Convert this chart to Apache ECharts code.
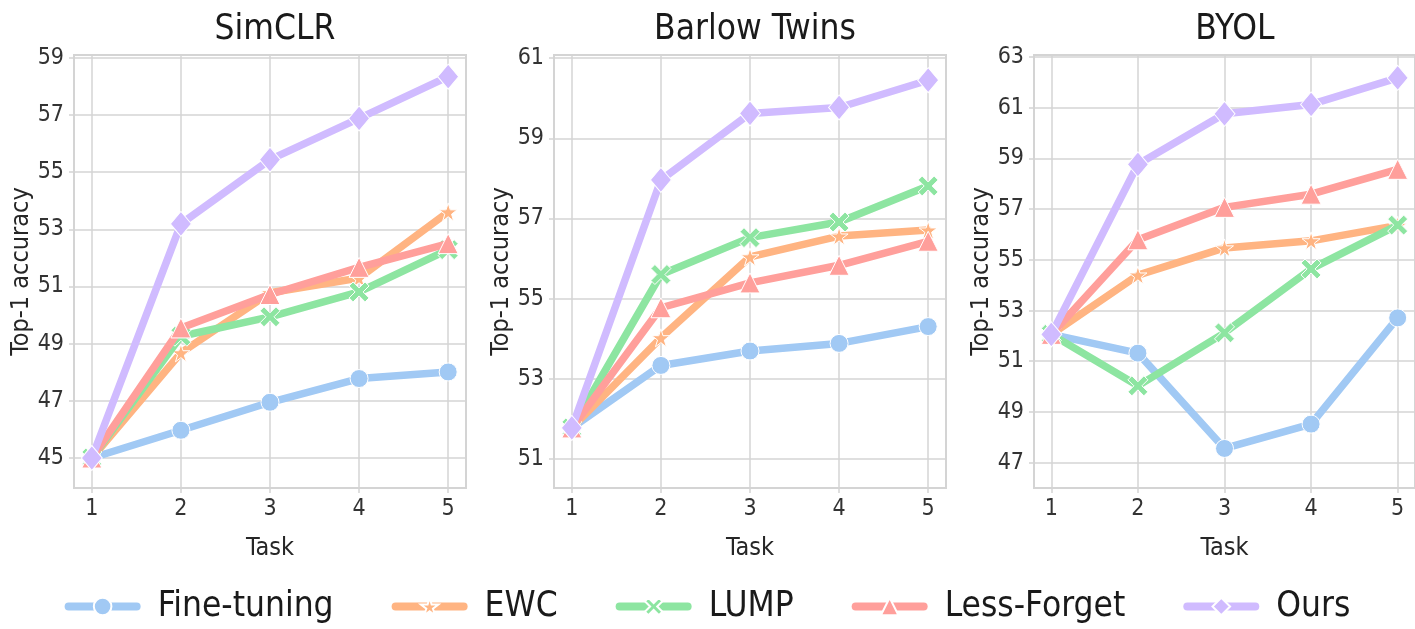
<!DOCTYPE html>
<html>
<head>
<meta charset="utf-8">
<script src="https://cdn.jsdelivr.net/npm/echarts@6/dist/echarts.min.js"></script>
<style>
  html, body { margin: 0; padding: 0; background: #fff; }
  #chart { width: 1415px; height: 629px; }
</style>
</head>
<body>
<div id="chart"></div>
<script>
const tasks = [1, 2, 3, 4, 5];
const methods = ["Fine-tuning", "EWC", "LUMP", "Less-Forget", "Ours"];
const panelTitles = ["SimCLR", "Barlow Twins", "BYOL"];

// SimCLR
const simclrFineTuning = [45.0, 45.97, 46.95, 47.78, 48.01];
const simclrEWC = [45.0, 48.68, 50.78, 51.3, 53.61];
const simclrLUMP = [45.0, 49.26, 49.94, 50.81, 52.29];
const simclrLessForget = [45.0, 49.55, 50.72, 51.67, 52.5];
const simclrOurs = [45.0, 53.19, 55.44, 56.88, 58.34];

// Barlow Twins
const barlowFineTuning = [51.77, 53.33, 53.69, 53.88, 54.3];
const barlowEWC = [51.77, 54.02, 56.04, 56.56, 56.71];
const barlowLUMP = [51.77, 55.6, 56.52, 56.91, 57.81];
const barlowLessForget = [51.77, 54.77, 55.39, 55.83, 56.43];
const barlowOurs = [51.77, 57.96, 59.62, 59.77, 60.45];

// BYOL
const byolFineTuning = [52.06, 51.32, 47.56, 48.52, 52.71];
const byolEWC = [52.06, 54.4, 55.47, 55.75, 56.36];
const byolLUMP = [52.06, 50.03, 52.12, 54.64, 56.37];
const byolLessForget = [52.06, 55.79, 57.07, 57.59, 58.57];
const byolOurs = [52.06, 58.77, 60.76, 61.13, 62.18];

const yTicks = [
  [45, 47, 49, 51, 53, 55, 57, 59],
  [51, 53, 55, 57, 59, 61],
  [47, 49, 51, 53, 55, 57, 59, 61, 63]
];
const yRanges = [[43.95, 59.1], [50.27, 61.08], [46.0, 63.08]];

const panelData = [
  [simclrFineTuning, simclrEWC, simclrLUMP, simclrLessForget, simclrOurs],
  [barlowFineTuning, barlowEWC, barlowLUMP, barlowLessForget, barlowOurs],
  [byolFineTuning, byolEWC, byolLUMP, byolLessForget, byolOurs]
];

const colors = ["#a1c9f4", "#ffb482", "#8de5a1", "#ff9f9b", "#d0bbff"];
const starPath = "path://M50,0 L61,35 L98,35 L68,57 L79,91 L50,70 L21,91 L32,57 L2,35 L39,35 Z";
const xPath = "path://M0,2 L2,0 L5,3 L8,0 L10,2 L7,5 L10,8 L8,10 L5,7 L2,10 L0,8 L3,5 Z";
const symbols = ["circle", starPath, xPath, "triangle", "diamond"];
const symbolSizes = [18, 18, 20, 20, [21, 25]];

const font = '"DejaVu Sans Condensed", "Liberation Sans Narrow", "DejaVu Sans", sans-serif';
const gridLefts = [74, 554, 1034];
const gridColor = "#d4d4d4";

const chart = echarts.init(document.getElementById("chart"));

const grids = [], xAxes = [], yAxes = [], titles = [], series = [];
for (let p = 0; p < 3; p++) {
  grids.push({ left: gridLefts[p], top: 55, width: 392, height: 433,
    show: true, borderColor: gridColor, borderWidth: 2, backgroundColor: "#fff" });
  titles.push({ text: panelTitles[p], left: gridLefts[p] + 196, top: 7, textAlign: "center",
    textStyle: { fontFamily: font, fontSize: 35, fontWeight: "normal", color: "#1a1a1a" } });
  xAxes.push({
    type: "value", gridIndex: p, min: 0.8, max: 5.2,
    name: "Task", nameLocation: "middle", nameGap: 48,
    nameTextStyle: { fontFamily: font, fontSize: 25, color: "#262626" },
    axisLine: { show: false },
    axisTick: { show: true, length: 5, customValues: tasks, lineStyle: { color: gridColor, width: 1.5 } },
    axisLabel: { customValues: tasks, fontFamily: font, fontSize: 23, color: "#333", margin: 10 },
    splitLine: { show: true, lineStyle: { color: gridColor, width: 1.5 } }
  });
  yAxes.push({
    type: "value", gridIndex: p, min: yRanges[p][0], max: yRanges[p][1],
    name: "Top-1 accuracy", nameLocation: "middle", nameGap: 32,
    nameTextStyle: { fontFamily: font, fontSize: 25, color: "#262626" },
    axisLine: { show: false },
    axisTick: { show: true, length: 5, customValues: yTicks[p], lineStyle: { color: gridColor, width: 1.5 } },
    axisLabel: { customValues: yTicks[p], fontFamily: font, fontSize: 23, color: "#333", margin: 10 },
    splitLine: { show: true, lineStyle: { color: gridColor, width: 1.5 } }
  });
  for (let m = 0; m < methods.length; m++) {
    series.push({
      name: methods[m], type: "line", xAxisIndex: p, yAxisIndex: p,
      data: tasks.map((t, i) => [t, panelData[p][m][i]]),
      symbol: symbols[m], symbolSize: symbolSizes[m],
      lineStyle: { width: 7.5, color: colors[m], cap: "round", join: "round" },
      itemStyle: { color: colors[m], borderColor: "#fff", borderWidth: 1 },
      z: 2 + m, animation: false
    });
  }
}

chart.setOption({
  color: colors,
  title: titles,
  grid: grids,
  xAxis: xAxes,
  yAxis: yAxes,
  legend: {
    data: methods, bottom: 0, left: "center",
    itemWidth: 68, itemHeight: 22, itemGap: 58,
    lineStyle: { width: 8, cap: "round" },
    textStyle: { fontFamily: font, fontSize: 35, color: "#1a1a1a", padding: [0, 0, 0, 16] }
  },
  series: series
});
</script>
</body>
</html>
